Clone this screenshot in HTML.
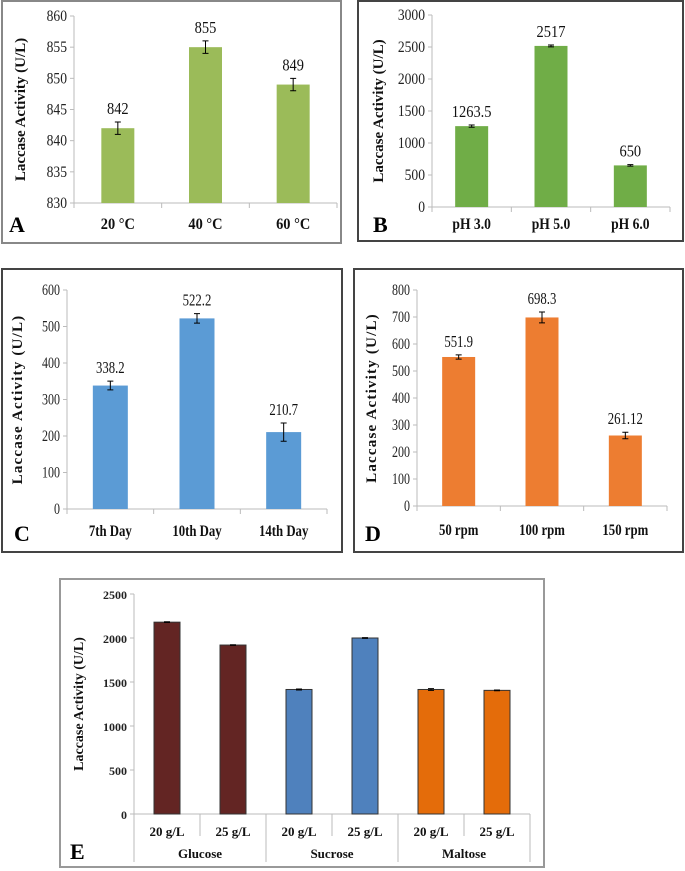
<!DOCTYPE html>
<html><head><meta charset="utf-8"><style>
body{margin:0;background:#fff;}
svg{display:block;}
svg text{font-family:"Liberation Serif","DejaVu Serif",serif;}
</style></head><body>
<svg id="fig" width="685" height="871" viewBox="0 0 685 871"></svg>
<script>
const catsA=["20 °C","40 °C","60 °C"];
const valsA=[842,855,849];
const errA=[1,1,1];
const labelsA=["842","855","849"];
const ticksA=[830,835,840,845,850,855,860];

const catsB=["pH 3.0","pH 5.0","pH 6.0"];
const valsB=[1263.5,2517,650];
const errB=[18,15,12];
const labelsB=["1263.5","2517","650"];
const ticksB=[0,500,1000,1500,2000,2500,3000];

const catsC=["7th Day","10th Day","14th Day"];
const valsC=[338.2,522.2,210.7];
const errC=[12,13,25];
const labelsC=["338.2","522.2","210.7"];
const ticksC=[0,100,200,300,400,500,600];

const catsD=["50 rpm","100 rpm","150 rpm"];
const valsD=[551.9,698.3,261.12];
const errD=[8,20,12];
const labelsD=["551.9","698.3","261.12"];
const ticksD=[0,100,200,300,400,500,600,700,800];

const catsE=["20 g/L","25 g/L","20 g/L","25 g/L","20 g/L","25 g/L"];
const groupsE=["Glucose","Sucrose","Maltose"];
const valsE=[2180,1920,1415,2000,1415,1405];
const errE=[4,4,6,4,10,4];
const ticksE=[0,500,1000,1500,2000,2500];

const NS="http://www.w3.org/2000/svg";
const svg=document.getElementById('fig');
function mk(tag,attrs,parent,text){const e=document.createElementNS(NS,tag);for(const k in attrs)e.setAttribute(k,attrs[k]);if(tag==='text')e.setAttribute('font-family','Liberation Serif, serif');if(text!==undefined)e.textContent=text;(parent||svg).appendChild(e);return e;}
function cond(x,s){return `translate(${x},0) scale(${s},1) translate(${-x},0)`;}

function panel(o){
  const g=mk('g',{});
  
  
  const box=mk('rect',{x:o.box[0],y:o.box[1],width:o.box[2],height:o.box[3],fill:'#fff',stroke:o.boxColor||'#444','stroke-width':o.boxW||2},g);
  
  
  const min=o.ticks[0],max=o.ticks[o.ticks.length-1];
  const y=v=>o.y0+(v-min)/(max-min)*(o.yTop-o.y0);
  const n=o.cats.length,cw=(o.xR-o.xL)/n;
  const x=i=>o.xL+cw*(i+0.5);
  const ya=mk('line',{x1:o.xL,x2:o.xL,y1:o.yTop,y2:o.y0,stroke:'#bbb'},g);
  
  
  const cs=o.cond||1;
  o.ticks.forEach(t=>{
    mk('line',{x1:o.xL-4,x2:o.xL,y1:y(t),y2:y(t),stroke:'#bbb'},g);
    const tl=mk('text',{x:o.xL-7,y:y(t)+5,'text-anchor':'end','font-size':o.tickFs||16,'font-weight':o.tickBold?'bold':'normal',fill:'#222',transform:cond(o.xL-7,cs)},g,String(t));
    
    
  });
  const xa=mk('line',{x1:o.xL,x2:o.xR,y1:o.y0,y2:o.y0,stroke:'#bbb'},g);
  
  
  for(let i=0;i<=n;i++){
    if(o.groups){ mk('line',{x1:o.xL+cw*i,x2:o.xL+cw*i,y1:o.y0,y2:o.y0+(i%2===0?48:22),stroke:'#bbb'},g);}
    else mk('line',{x1:o.xL+cw*i,x2:o.xL+cw*i,y1:o.y0,y2:o.y0+5,stroke:'#bbb'},g);
  }
  o.vals.forEach((v,i)=>{
    const col=Array.isArray(o.color)?o.color[i]:o.color;
    const b=mk('rect',{x:x(i)-o.bw/2,y:y(v),width:o.bw,height:o.y0-y(v),fill:col,stroke:o.barStroke||'none','stroke-width':1},g);
    
    
    const e=o.err[i];
    mk('path',{d:`M${x(i)},${y(v+e)}V${y(v-e)}M${x(i)-3},${y(v+e)}h6M${x(i)-3},${y(v-e)}h6`,stroke:'#000','stroke-width':1,fill:'none'},g);
    if(o.labels){
      const vl=mk('text',{x:x(i),y:y(v+e)-8,'text-anchor':'middle','font-size':17,fill:'#111',transform:cond(x(i),cs)},g,o.labels[i]);
      
      
    }
    const cl=mk('text',{x:x(i),y:o.catY,'text-anchor':'middle','font-size':o.catFs||16,'font-weight':'bold',fill:'#111',transform:cond(x(i),o.catCond||1)},g,o.cats[i]);
    
    
  });
  if(o.groups){
    o.groups.forEach((gn,j)=>{
      const t=mk('text',{x:o.xL+cw*(2*j+1),y:o.y0+44,'text-anchor':'middle','font-size':13,'font-weight':'bold',fill:'#111'},g,gn);
      
      
    });
  }
  const cy=(o.yTop+o.y0)/2;
  const yt=mk('text',{x:o.titleX,y:cy,'text-anchor':'middle','font-size':o.titleFs||15,'font-weight':'bold',fill:'#111',transform:`rotate(-90 ${o.titleX} ${cy})`,'letter-spacing':o.titleLs||0},g,'Laccase Activity (U/L)');
  
  
  const pl=mk('text',{x:o.letter[0],y:o.letter[1],'font-size':22,'font-weight':'bold',fill:'#000'},g,o.letterT);
  
  
}

panel({name:'panel-a-temperature',box:[2,1,339,242],boxColor:'#888',xL:74,xR:337,y0:203,yTop:16,ticks:ticksA,cats:catsA,vals:valsA,err:errA,labels:labelsA,bw:33,color:'#9BBB59',catY:229,titleX:25,letter:[9,232],letterT:'A',cond:0.85,catCond:0.9});
panel({name:'panel-b-ph',box:[358,1,325,240],xL:432,xR:670,y0:207,yTop:15,ticks:ticksB,cats:catsB,vals:valsB,err:errB,labels:labelsB,bw:33,color:'#70AD47',catY:229,titleX:383,letter:[373,232],letterT:'B',cond:0.85,catCond:0.85});
panel({name:'panel-c-incubation',box:[2,269,340,283],xL:67,xR:327,y0:509,yTop:290,ticks:ticksC,cats:catsC,vals:valsC,err:errC,labels:labelsC,bw:35,color:'#5B9BD5',catY:536,titleX:22,letter:[14,541],letterT:'C',cond:0.75,catCond:0.8,titleLs:1.2});
panel({name:'panel-d-agitation',box:[354,269,329,283],xL:417,xR:667,y0:506,yTop:290,ticks:ticksD,cats:catsD,vals:valsD,err:errD,labels:labelsD,bw:33,color:'#ED7D31',catY:535,titleX:376,letter:[365,541],letterT:'D',cond:0.75,catCond:0.8,titleLs:1.2});
panel({name:'panel-e-carbon-source',box:[60,579,484,288],boxColor:'#999',xL:134,xR:530,y0:814,yTop:594,ticks:ticksE,cats:catsE,vals:valsE,err:errE,labels:null,bw:26,color:['#632523','#632523','#4F81BD','#4F81BD','#E46C0A','#E46C0A'],barStroke:'#333',catY:836,catFs:13,tickFs:12,tickBold:true,titleX:83,titleFs:14,letter:[70,859],letterT:'E',groups:groupsE,cond:1});
</script>
</body></html>
